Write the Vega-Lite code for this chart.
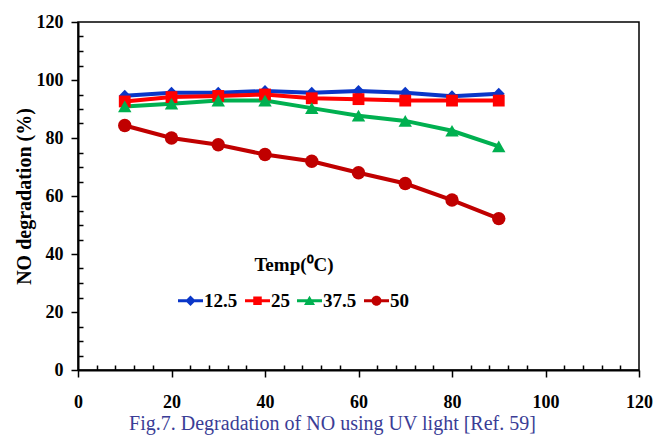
{
  "$schema": "https://vega.github.io/schema/vega-lite/v6.json",
  "width": 561,
  "height": 348,
  "autosize": {"type": "none"},
  "padding": {"left": 78, "top": 22, "right": 16, "bottom": 69},
  "background": "white",
  "config": {
    "view": {"stroke": "black", "strokeWidth": 1.5},
    "font": "Liberation Serif"
  },
  "title": {
    "text": "Fig.7. Degradation of NO using UV light [Ref. 59]",
    "orient": "bottom",
    "font": "Liberation Serif",
    "fontSize": 20,
    "fontWeight": "normal",
    "color": "#3A3D96",
    "anchor": "middle",
    "offset": 3,
    "dx": -26
  },
  "data": {
    "values": [
      {"temp": 10, "deg": 94.6, "series": "12.5"},
      {"temp": 20, "deg": 95.6, "series": "12.5"},
      {"temp": 30, "deg": 95.6, "series": "12.5"},
      {"temp": 40, "deg": 96.2, "series": "12.5"},
      {"temp": 50, "deg": 95.6, "series": "12.5"},
      {"temp": 60, "deg": 96.2, "series": "12.5"},
      {"temp": 70, "deg": 95.6, "series": "12.5"},
      {"temp": 80, "deg": 94.4, "series": "12.5"},
      {"temp": 90, "deg": 95.3, "series": "12.5"},
      {"temp": 10, "deg": 92.6, "series": "25"},
      {"temp": 20, "deg": 94.1, "series": "25"},
      {"temp": 30, "deg": 94.5, "series": "25"},
      {"temp": 40, "deg": 95.0, "series": "25"},
      {"temp": 50, "deg": 93.7, "series": "25"},
      {"temp": 60, "deg": 93.4, "series": "25"},
      {"temp": 70, "deg": 92.9, "series": "25"},
      {"temp": 80, "deg": 92.9, "series": "25"},
      {"temp": 90, "deg": 92.9, "series": "25"},
      {"temp": 10, "deg": 90.9, "series": "37.5"},
      {"temp": 20, "deg": 91.8, "series": "37.5"},
      {"temp": 30, "deg": 92.9, "series": "37.5"},
      {"temp": 40, "deg": 92.9, "series": "37.5"},
      {"temp": 50, "deg": 90.3, "series": "37.5"},
      {"temp": 60, "deg": 87.7, "series": "37.5"},
      {"temp": 70, "deg": 85.9, "series": "37.5"},
      {"temp": 80, "deg": 82.5, "series": "37.5"},
      {"temp": 90, "deg": 77.1, "series": "37.5"},
      {"temp": 10, "deg": 84.3, "series": "50"},
      {"temp": 20, "deg": 80.0, "series": "50"},
      {"temp": 30, "deg": 77.7, "series": "50"},
      {"temp": 40, "deg": 74.3, "series": "50"},
      {"temp": 50, "deg": 72.0, "series": "50"},
      {"temp": 60, "deg": 68.0, "series": "50"},
      {"temp": 70, "deg": 64.3, "series": "50"},
      {"temp": 80, "deg": 58.6, "series": "50"},
      {"temp": 90, "deg": 52.2, "series": "50"}
    ]
  },
  "encoding": {
    "x": {
      "field": "temp",
      "type": "quantitative",
      "scale": {"domain": [0, 120], "nice": false},
      "axis": {
        "title": null,
        "values": [0,4,8,12,16,20,24,28,32,36,40,44,48,52,56,60,64,68,72,76,80,84,88,92,96,100,104,108,112,116,120],
        "labelExpr": "datum.value % 20 === 0 ? datum.label : ''",
        "grid": false,
        "domainColor": "black",
        "domainWidth": 2,
        "tickColor": "black",
        "tickWidth": 1.5,
        "tickSize": {"condition": {"test": "datum.value % 20 === 0", "value": 7}, "value": -5},
        "labelFont": "Liberation Serif",
        "labelFontSize": 18,
        "labelFontWeight": "bold",
        "labelColor": "black",
        "labelPadding": 16,
        "labelFlush": false
      }
    },
    "y": {
      "field": "deg",
      "type": "quantitative",
      "scale": {"domain": [0, 120], "nice": false},
      "axis": {
        "title": "NO degradation (%)",
        "values": [0,5,10,15,20,25,30,35,40,45,50,55,60,65,70,75,80,85,90,95,100,105,110,115,120],
        "labelExpr": "datum.value % 20 === 0 ? datum.label : ''",
        "grid": false,
        "domainColor": "black",
        "domainWidth": 2,
        "tickColor": "black",
        "tickWidth": 1.5,
        "tickSize": {"condition": {"test": "datum.value % 20 === 0", "value": 7}, "value": -5},
        "labelFont": "Liberation Serif",
        "labelFontSize": 18,
        "labelFontWeight": "bold",
        "labelColor": "black",
        "labelPadding": 8,
        "labelFlush": false,
        "titleFont": "Liberation Serif",
        "titleFontSize": 20,
        "titleFontWeight": "bold",
        "titleColor": "black",
        "titlePadding": 2
      }
    },
    "color": {
      "field": "series",
      "type": "nominal",
      "scale": {
        "domain": ["12.5", "25", "37.5", "50"],
        "range": ["#0A36C8", "#FF0000", "#00B050", "#C00000"]
      },
      "legend": {
        "title": "Temp(⁰C)",
        "orient": "none",
        "legendX": 100,
        "legendY": 234,
        "direction": "horizontal",
        "titleFont": "Liberation Serif",
        "titleFontSize": 19,
        "titleFontWeight": "bold",
        "titleColor": "black",
        "titleAnchor": "middle",
        "titleAlign": "center",
        "titlePadding": 13,
        "labelFont": "Liberation Serif",
        "labelFontSize": 19,
        "labelFontWeight": "bold",
        "labelColor": "black",
        "labelOffset": 1,
        "columnPadding": 7,
        "symbolSize": 625,
        "symbolType": "M-1,-0.12H1V0.12H-1Z",
        "encode": {
          "symbols": {
            "update": {
              "shape": {"signal": "datum.value === '12.5' ? 'M-1,-0.12H1V0.12H-1Z M0,-0.42L0.42,0L0,0.42L-0.42,0Z' : datum.value === '25' ? 'M-1,-0.12H1V0.12H-1Z M-0.34,-0.34H0.34V0.34H-0.34Z' : datum.value === '37.5' ? 'M-1,-0.12H1V0.12H-1Z M0,-0.4L0.44,0.34H-0.44Z' : 'M-1,-0.12H1V0.12H-1Z M-0.4,0A0.4,0.4,0,1,1,0.4,0A0.4,0.4,0,1,1,-0.4,0Z'"},
              "fill": {"scale": "color", "field": "value"},
              "fillOpacity": {"value": 1},
              "opacity": {"value": 1},
              "strokeWidth": {"value": 0},
              "size": {"value": 625}
            }
          }
        }
      }
    }
  },
  "layer": [
    {
      "mark": {"type": "line", "strokeWidth": 4}
    },
    {
      "transform": [{"filter": "datum.series === '12.5'"}],
      "mark": {"type": "point", "shape": "diamond", "filled": true, "opacity": 1, "size": 140}
    },
    {
      "transform": [{"filter": "datum.series === '25'"}],
      "mark": {"type": "point", "shape": "square", "filled": true, "opacity": 1, "size": 140}
    },
    {
      "transform": [{"filter": "datum.series === '37.5'"}],
      "mark": {"type": "point", "shape": "triangle-up", "filled": true, "opacity": 1, "size": 180}
    },
    {
      "transform": [{"filter": "datum.series === '50'"}],
      "mark": {"type": "point", "shape": "circle", "filled": true, "opacity": 1, "size": 180}
    }
  ]
}
